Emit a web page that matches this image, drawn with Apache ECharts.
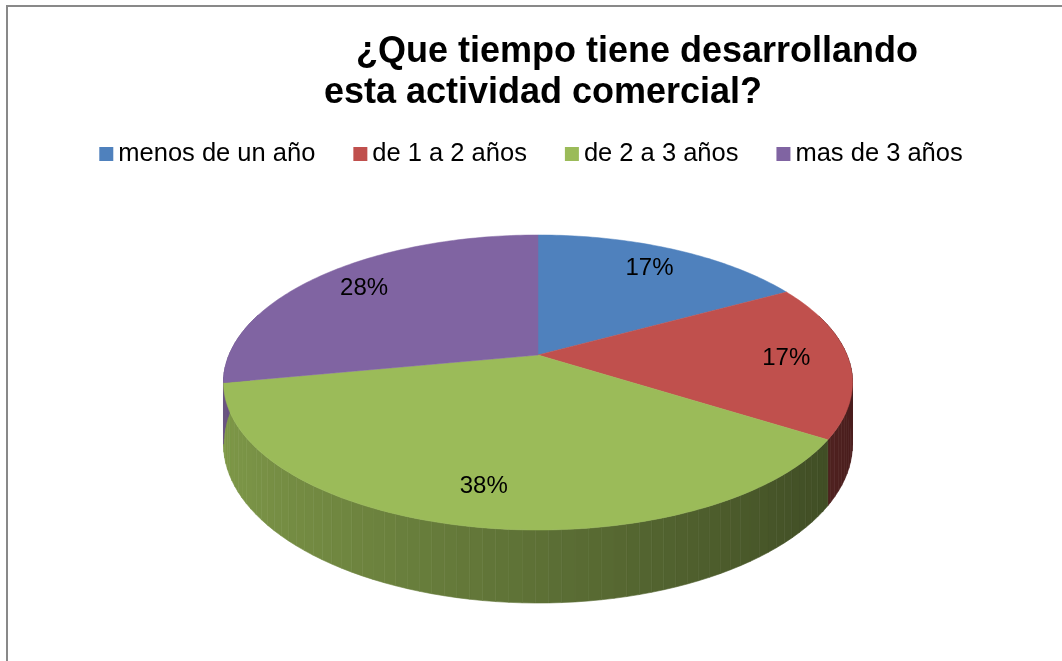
<!DOCTYPE html>
<html>
<head>
<meta charset="utf-8">
<script src="https://cdn.jsdelivr.net/npm/echarts@6/dist/echarts.min.js"></script>
<style>
  html, body { margin: 0; padding: 0; background: #fff; }
  #chart { width: 1062px; height: 661px; }
</style>
</head>
<body>
<div id="chart"></div>
<script>
// datos de la encuesta
var categories = ['menos de un año', 'de 1 a 2 años', 'de 2 a 3 años', 'mas de 3 años'];
var values = [17, 17, 38, 28];
var colors = ['#4F81BD', '#C0504D', '#9BBB59', '#8064A2'];
var titleLines = ['¿Que tiempo tiene desarrollando', 'esta actividad comercial?'];

var FONT = "'Liberation Sans', Arial, sans-serif";

// geometria del pastel 3D (perspectiva tipo Excel)
var PIE = { cx: 538, cy: 355, w: 309, h: 142.4, k: 0.1864, depth: 59.4 };

var total = values.reduce(function (a, b) { return a + b; }, 0);
var startAngles = [];
var acc = 0;
values.forEach(function (v) { startAngles.push(acc / total * 360); acc += v; });

function project(deg, f) {
  var t = deg * Math.PI / 180;
  var den = 1 + PIE.k * f * Math.cos(t);
  return [PIE.cx + PIE.w * f * Math.sin(t) / den, PIE.cy - PIE.h * f * Math.cos(t) / den];
}
function projectBottom(deg) {
  var t = deg * Math.PI / 180;
  var p = project(deg, 1);
  var den = 1 + PIE.k * Math.cos(t);
  return [p[0], p[1] + PIE.depth / den];
}
function shade(hex, f) {
  var n = parseInt(hex.slice(1), 16);
  var r = Math.round(((n >> 16) & 255) * f);
  var g = Math.round(((n >> 8) & 255) * f);
  var b = Math.round((n & 255) * f);
  return 'rgb(' + r + ',' + g + ',' + b + ')';
}

function makeRender(i) {
  return function (params, api) {
    var v = api.value(0);
    var a0 = startAngles[i];
    var a1 = a0 + v / total * 360;
    var children = [];
    var step = 2;
    // pared lateral
    for (var a = a0; a < a1; a += step) {
      var b = Math.min(a + step, a1);
      var mid = (a + b) / 2 * Math.PI / 180;
      if (Math.cos(mid) > 0.3) continue;
      var col = shade(colors[i], 0.6 - 0.22 * Math.sin(mid));
      children.push({
        type: 'polygon',
        z2: 1,
        shape: { points: [project(a, 1), project(b, 1), projectBottom(b), projectBottom(a)] },
        style: { fill: col, stroke: col, lineWidth: 0.6 }
      });
    }
    // cara superior
    var pts = [[PIE.cx, PIE.cy]];
    for (var d = a0; d < a1; d += 1) pts.push(project(d, 1));
    pts.push(project(a1, 1));
    children.push({
      type: 'polygon',
      z2: 10,
      shape: { points: pts },
      style: { fill: colors[i], stroke: colors[i], lineWidth: 0.5 }
    });
    // etiqueta
    var lp = project((a0 + a1) / 2, 0.8);
    children.push({
      type: 'text',
      z2: 20,
      x: lp[0],
      y: lp[1],
      style: {
        text: Math.round(v / total * 100) + '%',
        fill: '#000',
        font: '24px ' + FONT,
        align: 'center',
        verticalAlign: 'middle'
      }
    });
    return { type: 'group', children: children };
  };
}

var chart = echarts.init(document.getElementById('chart'));

var series = categories.map(function (name, i) {
  return {
    name: name,
    type: 'custom',
    coordinateSystem: 'none',
    itemStyle: { color: colors[i] },
    renderItem: makeRender(i),
    data: [values[i]]
  };
});

var option = {
  animation: false,
  color: colors,
  title: [
    {
      text: titleLines[0],
      left: 632,
      top: 29,
      textAlign: 'center',
      textStyle: { fontFamily: FONT, fontSize: 36, fontWeight: 'bold', color: '#000' }
    },
    {
      text: titleLines[1],
      left: 538,
      top: 70,
      textAlign: 'center',
      textStyle: { fontFamily: FONT, fontSize: 36, fontWeight: 'bold', color: '#000' }
    }
  ],
  legend: {
    data: categories,
    left: 'center',
    top: 136,
    icon: 'rect',
    itemWidth: 14,
    itemHeight: 14,
    itemGap: 38,
    textStyle: { fontFamily: FONT, fontSize: 25.5, color: '#000' }
  },
  graphic: [{
    type: 'rect',
    shape: { x: 7, y: 6, width: 1100, height: 700 },
    style: { fill: 'none', stroke: '#898989', lineWidth: 2 },
    silent: true
  }],
  series: series
};

chart.setOption(option);
</script>
</body>
</html>
